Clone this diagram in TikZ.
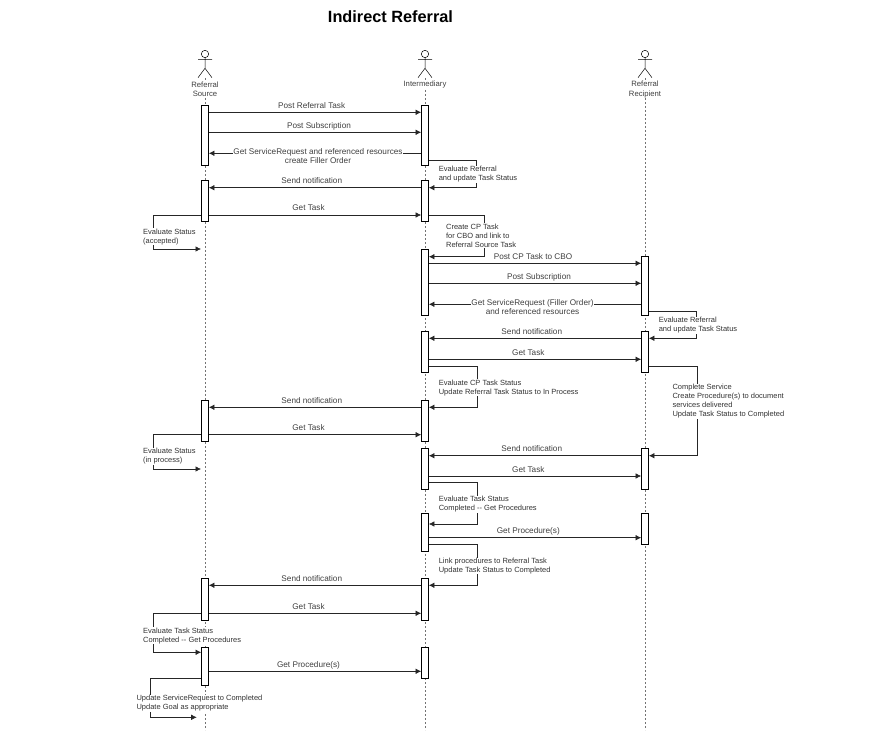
\documentclass[tikz,border=0pt]{standalone}
\usepackage{fontspec}
\setmainfont{Liberation Sans}
\usetikzlibrary{arrows.meta}

\tikzset{every picture/.style={line width=0.6pt}}
\tikzset{
  bar/.style={draw=black, fill=white, minimum width=7pt, inner sep=0pt, line width=0.7pt},
  msg/.style={draw=black!85, -{Latex[length=5.5pt,width=5.5pt]}},
  msgtext/.style={font=\fontsize{8.2}{9}\selectfont, text=black!75, fill=white, inner sep=0.5pt, align=center},
  looptext/.style={font=\fontsize{7.5}{9}\selectfont, text=black!80, fill=white, inner sep=0.5pt, align=left, anchor=west},
  actortext/.style={font=\fontsize{7.7}{9.6}\selectfont, text=black!75, align=center, fill=white, inner sep=0.5pt}
}

\begin{document}
\begin{tikzpicture}[x=1pt, y=-1pt]
  \useasboundingbox (0,0) rectangle (879,738);

  % Titre
  \node[font=\bfseries\fontsize{16.3}{18}\selectfont] (title) at (390.5,16.3) {Indirect Referral};

  % Lignes de vie et acteurs
  \foreach \x/\name/\txt/\ty in {
    205/source/{Referral\\Source}/89.3,
    425/inter/{Intermediary}/84.5,
    645/recip/{Referral\\Recipient}/89.3}
    {
      \draw[dash pattern=on 2pt off 2pt, black!55, line width=0.5pt] (\x,78) -- (\x,730);
      \draw[black, line width=0.5pt, fill=white] (\x,54) circle (3.7);
      \draw[black, line width=0.5pt] (\x,57.7) -- (\x,68.3) -- (\x-7,77.7) (\x,68.3) -- (\x+7,77.7) (\x-7,59.3) -- (\x+7,59.3);
      \node[actortext] (\name) at (\x,\ty) {\txt};
    }

  % Barres d'activation
  \foreach \name/\x/\top/\bot in {
    rsa/205/105.3/165, rsb/205/180/221.7, rsc/205/400.3/441.3, rsd/205/578.3/620.3, rse/205/647.3/685,
    ima/425/105.3/165, imb/425/180/221.7, imc/425/249.3/315.7, imd/425/331.3/372.7, ime/425/400.3/441.3,
    imf/425/448.3/489.3, img/425/513.3/551.3, imh/425/578.3/620.3, imi/425/647.3/678.3,
    rra/645/256.3/315.7, rrb/645/331.3/372.7, rrc/645/448.3/489.3, rrd/645/513.3/544.3}
    {
      \node[bar, minimum height={(\bot-\top)*1pt}] (\name) at (\x,{(\top+\bot)/2}) {};
    }

  % Messages
  \foreach \from/\to/\y/\tx/\txt [count=\i] in {
    rsa.east/ima.west/112.3/311.7/Post Referral Task,
    rsa.east/ima.west/132.3/319/Post Subscription,
    imb.west/rsb.east/187.7/311.8/Send notification,
    rsb.east/imb.west/215/308.5/Get Task,
    imc.east/rra.west/263.3/533/Post CP Task to CBO,
    imc.east/rra.west/283.3/539/Post Subscription,
    rrb.west/imd.east/338.3/531.8/Send notification,
    imd.east/rrb.west/359.3/528.3/Get Task,
    ime.west/rsc.east/407.3/311.8/Send notification,
    rsc.east/ime.west/434.7/308.5/Get Task,
    rrc.west/imf.east/455.7/531.8/Send notification,
    imf.east/rrc.west/476/528.3/Get Task,
    img.east/rrd.west/537.7/528.3/Get Procedure(s),
    imh.west/rsd.east/585.3/311.8/Send notification,
    rsd.east/imh.west/613.3/308.5/Get Task,
    rse.east/imi.west/671.3/308.5/Get Procedure(s)}
    {
      \draw[msg] (\from |- 0,\y) -- (\to |- 0,\y);
      \node[msgtext, anchor=base] (msg\i) at (\tx,\y-4) {\txt};
    }

  % Retours sur deux lignes
  \draw[msg] (ima.west |- 0,153.3) -- (rsa.east |- 0,153.3);
  \node[msgtext] (getsr) at (318,156.3) {Get ServiceRequest and referenced resources\\create Filler Order};
  \draw[msg] (rra.west |- 0,304.3) -- (imc.east |- 0,304.3);
  \node[msgtext] (getfo) at (532.5,307.3) {Get ServiceRequest (Filler Order)\\and referenced resources};

  % Extremites libres
  \coordinate (enda) at (201,249);
  \coordinate (endb) at (201,469);
  \coordinate (endc) at (196.7,717.3);

  % Boucles
  \foreach \from/\to/\ya/\x/\yb in {
    ima.east/imb.east/160.3/476.7/187.7,
    imb.east/imc.east/215/484.3/256.7,
    rra.east/rrb.east/311/696.7/338.3,
    imd.east/ime.east/366/477.7/407.3,
    rrb.east/rrc.east/366/697.3/455.7,
    imf.east/img.east/482.3/477.7/524,
    img.east/imh.east/544.3/477.7/585.3,
    rsb.west/enda/215/153.3/249,
    rsc.west/endb/434.7/153.3/469,
    rsd.west/rse.west/613.3/153.3/652.3,
    rse.west/endc/678/150/717.3}
    {
      \draw[msg] (\from |- 0,\ya) -- (\x,\ya) -- (\x,\yb) -- (\to |- 0,\yb);
    }

  % Textes des boucles
  \node[looptext] (evala) at (438,174.3) {Evaluate Referral\\and update Task Status};
  \node[looptext] (creat) at (445.3,235.5) {Create CP Task\\for CBO and link to\\Referral Source Task};
  \node[looptext] (evalb) at (142.3,236.6) {Evaluate Status\\(accepted)};
  \node[looptext] (evalc) at (658,325.3) {Evaluate Referral\\and update Task Status};
  \node[looptext] (evald) at (438,387.6) {Evaluate CP Task Status\\Update Referral Task Status to In Process};
  \node[looptext] (compl) at (671.7,401.3) {Complete Service\\Create Procedure(s) to document\\services delivered\\Update Task Status to Completed};
  \node[looptext] (evale) at (142.3,456.3) {Evaluate Status\\(in process)};
  \node[looptext] (evalf) at (438,504.3) {Evaluate Task Status\\Completed -{}- Get Procedures};
  \node[looptext] (linkp) at (438,566) {Link procedures to Referral Task\\Update Task Status to Completed};
  \node[looptext] (evalg) at (142.3,635.6) {Evaluate Task Status\\Completed -{}- Get Procedures};
  \node[looptext] (updat) at (135.7,703.3) {Update ServiceRequest to Completed\\Update Goal as appropriate};
\end{tikzpicture}
\end{document}
